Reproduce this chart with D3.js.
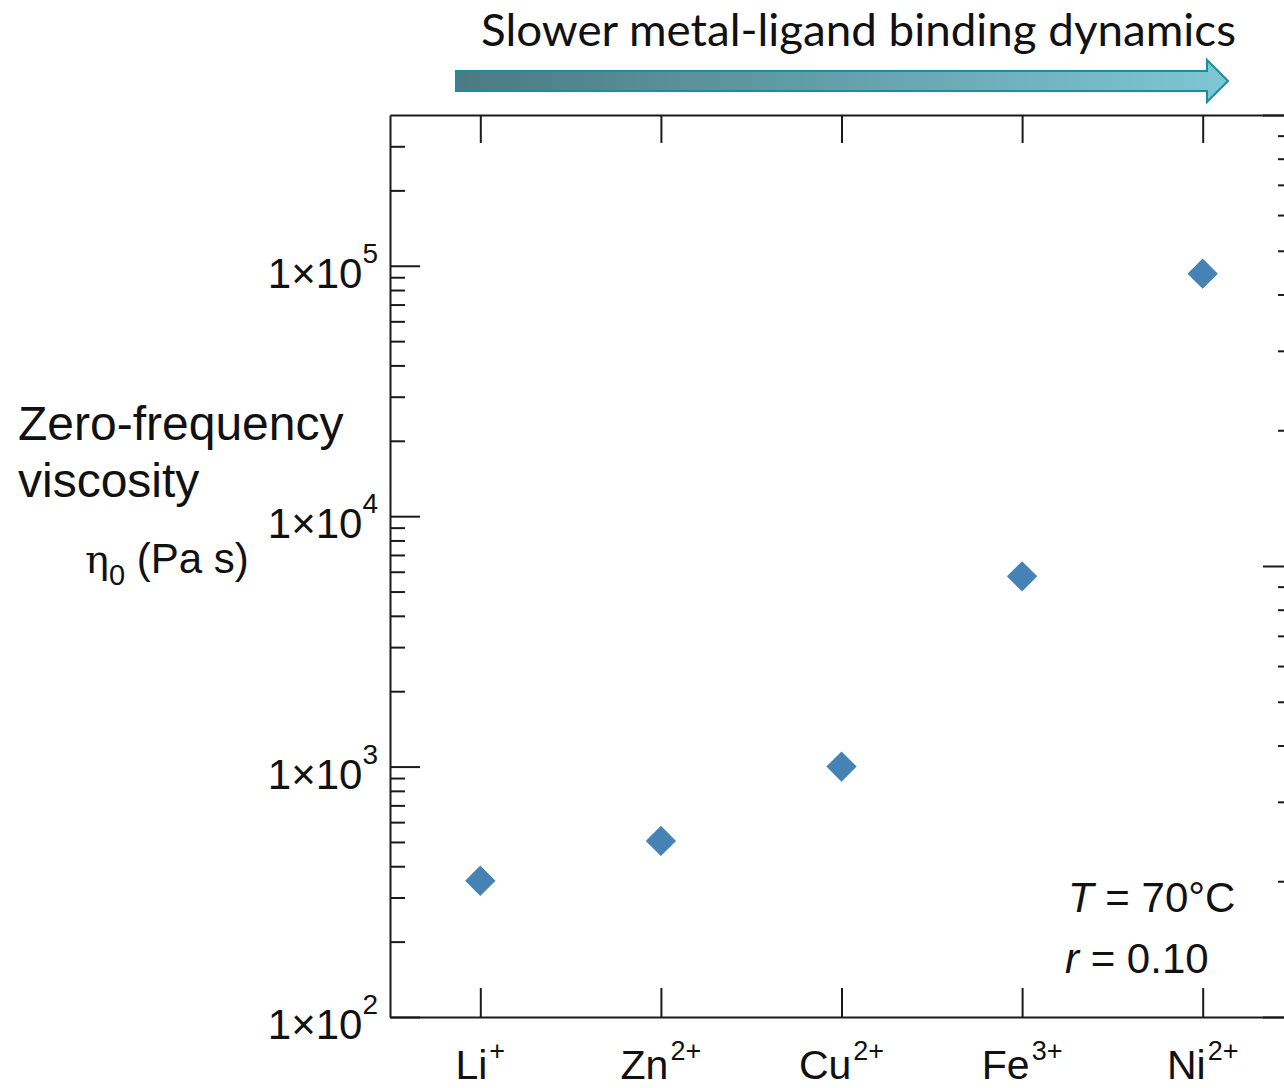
<!DOCTYPE html>
<html>
<head>
<meta charset="utf-8">
<script src="https://cdn.jsdelivr.net/npm/d3@7"></script>
<style>
  body { margin: 0; background: #fff; overflow: hidden; }
  text { font-family: "Liberation Sans", Arial, sans-serif; fill: #111; }
  .axis path, .axis line { stroke: #1a1a1a; stroke-width: 2; }
</style>
</head>
<body>
<div class="chart"></div>
<script>
// data
let ions = ['Li', 'Zn', 'Cu', 'Fe', 'Ni'];
let charges = ['+', '2+', '2+', '3+', '2+'];
let viscosity = [350, 505, 1000, 5750, 93000];
let yMajor = [1e2, 1e3, 1e4, 1e5];
let yExponents = ['2', '3', '4', '5'];
let rightDomain = [1, 100];

let W = 1284, H = 1088;
let plot = {left: 390, right: 1293, top: 115, bottom: 1017};

let svg = d3.select('.chart')
	.append('svg')
	.attr('width', W)
	.attr('height', H);

let xScale = d3.scalePoint()
	.domain(ions)
	.range([plot.left, plot.right])
	.padding(0.5);

let yScale = d3.scaleLog()
	.domain([100, 4e5])
	.range([plot.bottom, plot.top]);

let y2Scale = d3.scaleLog()
	.domain(rightDomain)
	.range([plot.bottom, plot.top]);

// minor ticks for log axes
function minors(scale) {
	let d = scale.domain();
	let out = [];
	for (let e = Math.floor(Math.log10(d[0])); e <= Math.ceil(Math.log10(d[1])); e++) {
		for (let m = 2; m <= 9; m++) {
			let v = m * Math.pow(10, e);
			if (v > d[0] && v < d[1]) out.push(v);
		}
	}
	return out;
}

// left axis
svg.append('g')
	.attr('class', 'axis')
	.attr('transform', 'translate(' + plot.left + ',0)')
	.call(d3.axisLeft(yScale).tickValues(yMajor).tickSizeInner(-30).tickSizeOuter(0).tickFormat(''));
svg.append('g')
	.attr('class', 'axis')
	.attr('transform', 'translate(' + plot.left + ',0)')
	.call(d3.axisLeft(yScale).tickValues(minors(yScale)).tickSizeInner(-15).tickSizeOuter(0).tickFormat(''))
	.select('.domain').remove();

// right axis (second scale, no labels)
let y2Major = [1, 10, 100];
svg.append('g')
	.attr('class', 'axis')
	.attr('transform', 'translate(' + plot.right + ',0)')
	.call(d3.axisRight(y2Scale).tickValues(y2Major).tickSizeInner(-30).tickSizeOuter(0).tickFormat(''));
svg.append('g')
	.attr('class', 'axis')
	.attr('transform', 'translate(' + plot.right + ',0)')
	.call(d3.axisRight(y2Scale).tickValues(minors(y2Scale)).tickSizeInner(-15).tickSizeOuter(0).tickFormat(''))
	.select('.domain').remove();

// top + bottom axes
svg.append('g')
	.attr('class', 'axis')
	.attr('transform', 'translate(0,' + plot.top + ')')
	.call(d3.axisTop(xScale).tickSizeInner(-28).tickSizeOuter(0).tickFormat(''));
svg.append('g')
	.attr('class', 'axis')
	.attr('transform', 'translate(0,' + plot.bottom + ')')
	.call(d3.axisBottom(xScale).tickSizeInner(-29).tickSizeOuter(0).tickFormat(''));

// y tick labels 1x10^n
let yLab = svg.selectAll('.ylab')
	.data(yMajor)
	.enter()
	.append('text')
	.attr('class', 'ylab')
	.attr('x', 378)
	.attr('y', d => yScale(d) + 22)
	.attr('text-anchor', 'end')
	.style('font-size', '42px');
yLab.append('tspan').text('1\u00d710');
yLab.append('tspan')
	.attr('dy', -25)
	.style('font-size', '28px')
	.text((d, i) => yExponents[i]);

// x tick labels with charge superscripts
let xLab = svg.selectAll('.xlab')
	.data(ions)
	.enter()
	.append('text')
	.attr('class', 'xlab')
	.attr('x', d => xScale(d))
	.attr('y', 1079)
	.attr('text-anchor', 'middle')
	.style('font-size', '41px');
xLab.append('tspan').text(d => d);
xLab.append('tspan')
	.attr('dx', 2)
	.attr('dy', -19)
	.style('font-size', '27px')
	.text((d, i) => charges[i]);

// points
let diamond = d3.symbol().type(d3.symbolSquare).size(460);
svg.selectAll('.pt')
	.data(viscosity)
	.enter()
	.append('path')
	.attr('class', 'pt')
	.attr('d', diamond)
	.attr('transform', (d, i) => 'translate(' + xScale(ions[i]) + ',' + yScale(d) + ') rotate(45)')
	.style('fill', '#4682b4');

// y title
svg.append('text').attr('x', 18).attr('y', 440).style('font-size', '48px').text('Zero-frequency');
svg.append('text').attr('x', 18).attr('y', 497).style('font-size', '48px').text('viscosity');
let eta = svg.append('text').attr('x', 85).attr('y', 573).style('font-size', '42px');
eta.append('tspan').style('font-family', '"DejaVu Serif", serif').style('font-size', '40px').text('\u03b7');
eta.append('tspan').attr('dy', 12).style('font-size', '29px').text('0');
eta.append('tspan').attr('dy', -12).text(' (Pa s)');

// conditions
let t1 = svg.append('text').attr('x', 1068).attr('y', 912).style('font-size', '42px');
t1.append('tspan').style('font-style', 'italic').text('T');
t1.append('tspan').text(' = 70\u00b0C');
let t2 = svg.append('text').attr('x', 1065).attr('y', 973).style('font-size', '42px');
t2.append('tspan').style('font-style', 'italic').text('r');
t2.append('tspan').text(' = 0.10');

// top arrow
let grad = svg.append('defs').append('linearGradient').attr('id', 'arrowGrad');
grad.append('stop').attr('offset', '0%').attr('stop-color', '#4b7a82');
grad.append('stop').attr('offset', '100%').attr('stop-color', '#7ec7d4');

let ax0 = 456, ax1 = 1207, ahead = 1228, ay = 81;
svg.append('path')
	.attr('d', d3.line()([[ax0, ay - 10], [ax1, ay - 10], [ax1, ay - 21], [ahead, ay], [ax1, ay + 21], [ax1, ay + 10], [ax0, ay + 10]]) + 'Z')
	.style('fill', 'url(#arrowGrad)')
	.style('stroke', '#1b8d9c')
	.style('stroke-width', 2);

svg.append('text')
	.attr('x', 481)
	.attr('y', 46)
	.attr('textLength', 755)
	.attr('lengthAdjust', 'spacingAndGlyphs')
	.style('font-family', 'Lato, "Open Sans", sans-serif')
	.style('font-size', '44px')
	.text('Slower metal-ligand binding dynamics');
</script>
</body>
</html>
